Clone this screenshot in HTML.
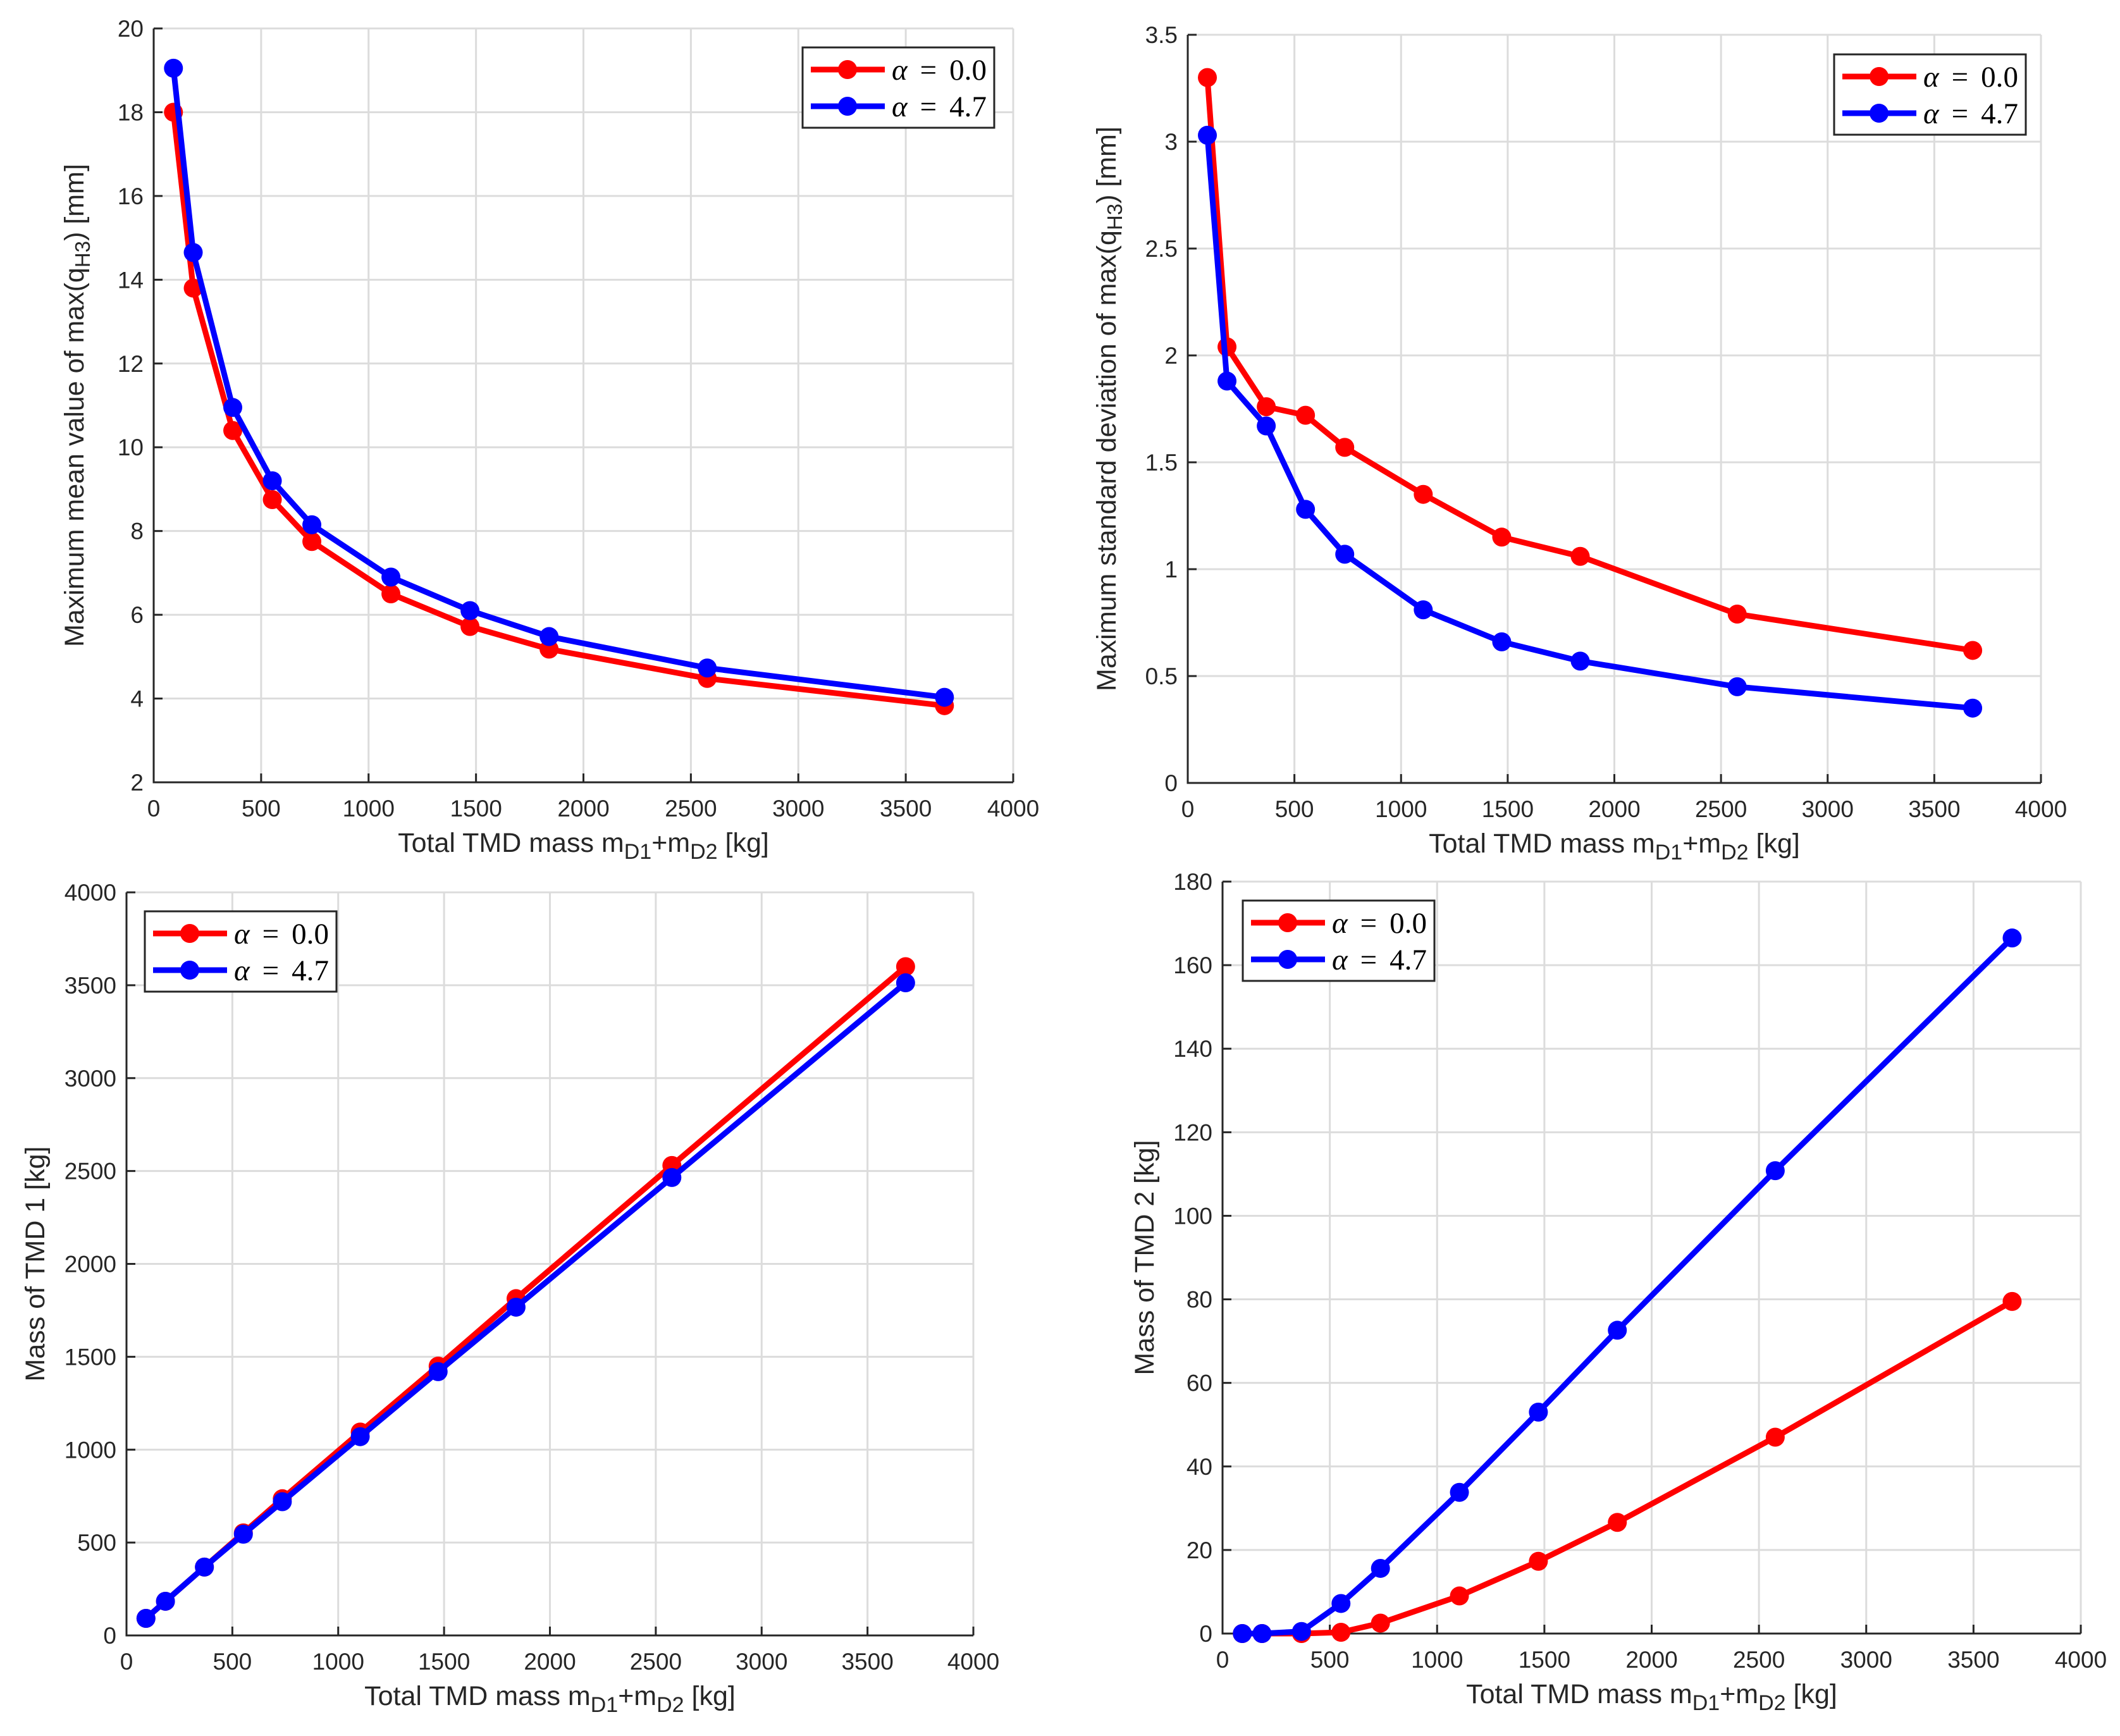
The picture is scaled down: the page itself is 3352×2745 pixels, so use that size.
<!DOCTYPE html>
<html><head><meta charset="utf-8"><style>
html,body{margin:0;padding:0;background:#fff}
svg{display:block}
text{font-family:"Liberation Sans",sans-serif;fill:#262626}
.leg{font-family:"Liberation Serif",serif;fill:#000}
</style></head><body>
<svg id="fig" width="3352" height="2745" viewBox="0 0 3352 2745" xmlns="http://www.w3.org/2000/svg"></svg>
<script>
const xTotal = [92, 184, 368, 552, 736, 1104, 1472, 1840, 2576, 3680];
const meanRed = [18.0, 13.8, 10.4, 8.75, 7.75, 6.5, 5.72, 5.18, 4.48, 3.83];
const meanBlue = [19.05, 14.65, 10.95, 9.2, 8.15, 6.9, 6.1, 5.48, 4.73, 4.03];
const stdRed = [3.3, 2.04, 1.76, 1.72, 1.57, 1.35, 1.15, 1.06, 0.79, 0.62];
const stdBlue = [3.03, 1.88, 1.67, 1.28, 1.07, 0.81, 0.66, 0.57, 0.45, 0.35];
const m1Red = [92, 184, 368, 552, 736, 1095, 1450, 1813, 2530, 3600];
const m1Blue = [92, 184, 368, 545, 720, 1070, 1420, 1767, 2465, 3513];
const m2Red = [0, 0, 0, 0.3, 2.5, 9, 17.3, 26.6, 47, 79.5];
const m2Blue = [0, 0, 0.5, 7.2, 15.6, 33.8, 53, 72.6, 110.8, 166.5];
const xTicks = [0, 500, 1000, 1500, 2000, 2500, 3000, 3500, 4000];
const yTicks1 = [2, 4, 6, 8, 10, 12, 14, 16, 18, 20];
const yTicks2 = [0, 0.5, 1, 1.5, 2, 2.5, 3, 3.5];
const yTicks3 = [0, 500, 1000, 1500, 2000, 2500, 3000, 3500, 4000];
const yTicks4 = [0, 20, 40, 60, 80, 100, 120, 140, 160, 180];
const legendLabels = ["α = 0.0", "α = 4.7"];

const NS = "http://www.w3.org/2000/svg";
const svg = document.getElementById("fig");
function el(tag, attrs, parent) {
  const e = document.createElementNS(NS, tag);
  for (const k in attrs) e.setAttribute(k, attrs[k]);
  (parent || svg).appendChild(e);
  return e;
}

const panels = [
  {name:"mean-panel", L:243,R:1602,T:45,B:1237, ymin:2,ymax:20, yt:yTicks1,
   red:meanRed, blue:meanBlue, xr:xTotal, xb:xTotal, legend:[1269,75], ylabX:132,
   ylabel:'Maximum mean value of max(q<tspan baseline-shift="-10" font-size="33">H3</tspan>) [mm]'},
  {name:"std-panel", L:1878,R:3227,T:55,B:1238, ymin:0,ymax:3.5, yt:yTicks2,
   red:stdRed, blue:stdBlue, xr:xTotal, xb:xTotal, legend:[2900,86], ylabX:1764,
   ylabel:'Maximum standard deviation of max(q<tspan baseline-shift="-10" font-size="33">H3</tspan>) [mm]'},
  {name:"tmd1-panel", L:200,R:1539,T:1411,B:2586, ymin:0,ymax:4000, yt:yTicks3,
   red:m1Red, blue:m1Blue, xr:xTotal, xb:xTotal, legend:[229,1441], ylabX:70,
   ylabel:'Mass of TMD 1 [kg]'},
  {name:"tmd2-panel", L:1933,R:3290,T:1394,B:2583, ymin:0,ymax:180, yt:yTicks4,
   red:m2Red, blue:m2Blue, xr:xTotal, xb:xTotal, legend:[1965,1424], ylabX:1824,
   ylabel:'Mass of TMD 2 [kg]'}
];

panels.forEach(p => {
  const g = el("g", {});
  
  
  const sx = v => p.L + v / 4000 * (p.R - p.L);
  const sy = v => p.B - (v - p.ymin) / (p.ymax - p.ymin) * (p.B - p.T);
  xTicks.forEach(t => {
    const l = el("line", {x1:sx(t), x2:sx(t), y1:p.T, y2:p.B, stroke:"#dcdcdc", "stroke-width":3}, g);
    
    
  });
  p.yt.forEach(t => {
    const l = el("line", {x1:p.L, x2:p.R, y1:sy(t), y2:sy(t), stroke:"#dcdcdc", "stroke-width":3}, g);
    
    
  });
  const ax = el("path", {d:`M${p.L},${p.T} V${p.B} H${p.R}`, fill:"none", stroke:"#262626", "stroke-width":3}, g);
  
  
  xTicks.forEach(t => {
    const tk = el("line", {x1:sx(t), x2:sx(t), y1:p.B, y2:p.B-14, stroke:"#262626", "stroke-width":3}, g);
    
    
    const tx = el("text", {x:sx(t), y:p.B+54, "text-anchor":"middle", "font-size":37}, g);
    tx.textContent = String(t);
    
    
  });
  p.yt.forEach(t => {
    const tk = el("line", {x1:p.L, x2:p.L+14, y1:sy(t), y2:sy(t), stroke:"#262626", "stroke-width":3}, g);
    
    
    const tx = el("text", {x:p.L-16, y:sy(t)+13, "text-anchor":"end", "font-size":37}, g);
    tx.textContent = String(t);
    
    
  });
  const xl = el("text", {x:(p.L+p.R)/2, y:p.B+110, "text-anchor":"middle", "font-size":43}, g);
  xl.innerHTML = 'Total TMD mass m<tspan baseline-shift="-11" font-size="34">D1</tspan>+m<tspan baseline-shift="-11" font-size="34">D2</tspan> [kg]';
  
  
  const cy = (p.T+p.B)/2;
  const yl = el("text", {x:p.ylabX, y:cy, "text-anchor":"middle", "font-size":43, transform:`rotate(-90 ${p.ylabX} ${cy})`}, g);
  yl.innerHTML = p.ylabel;
  
  
  [[p.xr, p.red, "#ff0000", "series-alpha-0"], [p.xb, p.blue, "#0000ff", "series-alpha-4-7"]].forEach(([xs, ys, c, nm]) => {
    const sg = el("g", {}, g);
    
    
    const pts = xs.map((x, i) => sx(x) + "," + sy(ys[i])).join(" ");
    const pl = el("polyline", {points:pts, fill:"none", stroke:c, "stroke-width":9, "stroke-linejoin":"round"}, sg);
    
    
    xs.forEach((x, i) => {
      const m = el("circle", {cx:sx(x), cy:sy(ys[i]), r:15, fill:c}, sg);
      
      
    });
  });
  const [lx, ly] = p.legend;
  const lg = el("g", {}, g);
  
  
  const lb = el("rect", {x:lx, y:ly, width:303, height:127, fill:"#fff", stroke:"#262626", "stroke-width":3}, lg);
  
  
  ["#ff0000", "#0000ff"].forEach((c, i) => {
    const ry = ly + 35 + i*58;
    const e = el("g", {}, lg);
    
    
    el("line", {x1:lx+13, x2:lx+130, y1:ry, y2:ry, stroke:c, "stroke-width":9}, e);
    el("circle", {cx:lx+71, cy:ry, r:15, fill:c}, e);
    const t = el("text", {x:lx+141, y:ry+16, "font-size":47, class:"leg", "word-spacing":"8", textLength:"150", lengthAdjust:"spacing"}, e);
    t.innerHTML = '<tspan font-style="italic">α</tspan> = ' + legendLabels[i].split("= ")[1];
  });
});
</script>
</body></html>
